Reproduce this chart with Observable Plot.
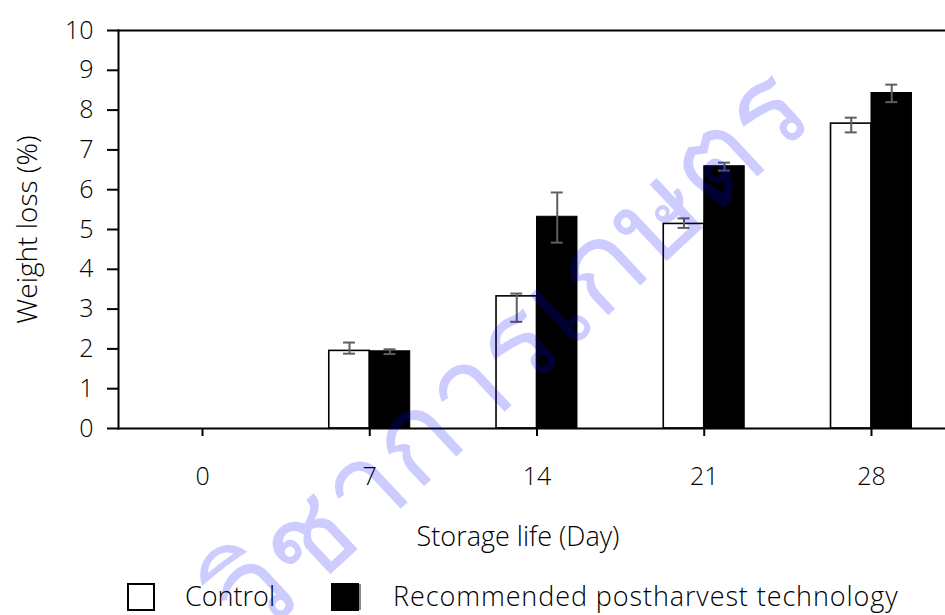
<!DOCTYPE html>
<html>
<head>
<meta charset="utf-8">
<script src="https://cdn.jsdelivr.net/npm/d3@7"></script>
<script src="https://cdn.jsdelivr.net/npm/@observablehq/plot@0.6"></script>
<style>
  html, body { margin: 0; padding: 0; background: white; }
  #wrap { width: 945px; position: relative; font-family: "Open Sans", "Noto Sans", sans-serif; }
  #chart svg text { font-weight: 300; }
  #legend { position: relative; width: 945px; height: 50px; font-size: 27px; font-weight: 300; color: #000; }
  #legend .sw { position: absolute; top: 18px; width: 28px; height: 28px; box-sizing: border-box; }
  #legend .lab { position: absolute; top: 14px; line-height: 34px; white-space: nowrap; }
</style>
</head>
<body>
<div id="wrap">
  <div id="chart"></div>
  <div id="legend"></div>
</div>
<script>
// ---- data ----
const days = ["0", "7", "14", "21", "28"];
const seriesNames = ["Control", "Recommended postharvest technology"];
const control = [0, 1.95, 3.32, 5.14, 7.66];
const recommended = [0, 1.94, 5.32, 6.59, 8.43];
const controlLow = [null, 1.88, 2.68, 5.04, 7.44];
const controlHigh = [null, 2.16, 3.39, 5.28, 7.81];
const recLow = [null, 1.87, 4.67, 6.48, 8.20];
const recHigh = [null, 1.99, 5.93, 6.68, 8.64];
const yTicks = [0, 1, 2, 3, 4, 5, 6, 7, 8, 9, 10];
const xTitle = "Storage life (Day)";
const yTitle = "Weight loss (%)";
const watermark = "วิชาการเกษตร";

const rows = days.map((d, i) => ({
  day: d,
  control: control[i], recommended: recommended[i],
  cLo: controlLow[i], cHi: controlHigh[i],
  rLo: recLow[i], rHi: recHigh[i]
}));
const bars = rows.filter(r => r.control > 0 || r.recommended > 0);

const W = 945, H = 565;
const mL = 118, mT = 30, mB = 137;
const bw = 81;          // group width in px
const cap = 12;         // error-bar cap width
const errColor = "#5f5f5f";
const font = "'Open Sans', 'Noto Sans', sans-serif";

const chart = Plot.plot({
  width: W,
  height: H,
  marginLeft: mL,
  marginRight: 0,
  marginTop: mT,
  marginBottom: mB,
  style: { fontFamily: font, fontSize: "25px", color: "#000", overflow: "visible" },
  x: { domain: days, range: [75.25, 997.75], padding: 0.516, round: false },
  y: { domain: [0, 10], range: [H - mB, mT] },
  marks: [
    Plot.barY(bars, { x: "day", y: "control", fill: "white", stroke: "black", strokeWidth: 1.6, insetRight: bw / 2 }),
    Plot.barY(bars, { x: "day", y: "recommended", fill: "black", stroke: "black", strokeWidth: 1, insetLeft: bw / 2 }),
    Plot.ruleX(bars, { x: "day", y1: "cLo", y2: "cHi", dx: -bw / 4, stroke: errColor, strokeWidth: 2 }),
    Plot.tickY(bars, { x: "day", y: "cLo", dx: -bw / 4, insetLeft: bw / 2 - cap / 2, insetRight: bw / 2 - cap / 2, stroke: errColor, strokeWidth: 2 }),
    Plot.tickY(bars, { x: "day", y: "cHi", dx: -bw / 4, insetLeft: bw / 2 - cap / 2, insetRight: bw / 2 - cap / 2, stroke: errColor, strokeWidth: 2 }),
    Plot.ruleX(bars, { x: "day", y1: "rLo", y2: "rHi", dx: bw / 4, stroke: errColor, strokeWidth: 2 }),
    Plot.tickY(bars, { x: "day", y: "rLo", dx: bw / 4, insetLeft: bw / 2 - cap / 2, insetRight: bw / 2 - cap / 2, stroke: errColor, strokeWidth: 2 }),
    Plot.tickY(bars, { x: "day", y: "rHi", dx: bw / 4, insetLeft: bw / 2 - cap / 2, insetRight: bw / 2 - cap / 2, stroke: errColor, strokeWidth: 2 }),
    Plot.frame({ anchor: "left", stroke: "black", strokeWidth: 2 }),
    Plot.frame({ anchor: "top", stroke: "black", strokeWidth: 2 }),
    Plot.frame({ anchor: "bottom", stroke: "black", strokeWidth: 2 }),
    Plot.axisY({ ticks: yTicks, tickSize: 11, tickPadding: 14, fontSize: 25, strokeWidth: 2, stroke: "black", fill: "black", label: null, tickFormat: d => String(d) }),
    Plot.axisX({ tickSize: 8, tickPadding: 31, fontSize: 25, strokeWidth: 2, stroke: "black", fill: "black", label: null }),
    Plot.text([yTitle], { frameAnchor: "left", textAnchor: "middle", lineAnchor: "middle", rotate: -90, dx: -90, fontSize: 28, letterSpacing: 0.6, fill: "black" }),
    Plot.text([xTitle], { frameAnchor: "bottom", textAnchor: "middle", lineAnchor: "middle", dx: -14, dy: 109, fontSize: 27, letterSpacing: 0.4, fill: "black" }),
    Plot.text([watermark], { frameAnchor: "middle", dx: -22, dy: 124, rotate: -43, fontSize: 122, letterSpacing: -9, fill: "blue", fillOpacity: 0.2 })
  ]
});
document.getElementById("chart").appendChild(chart);

// legend
const legend = document.getElementById("legend");
const items = [
  { sw: 127, text: 185, fill: "white", border: "2px solid black", extra: "", spacing: "0px" },
  { sw: 331, text: 393, fill: "black", border: "1px solid black", extra: "box-shadow: 3px 0 0 -1px #888;", spacing: "0.9px" }
];
items.forEach((it, i) => {
  const s = document.createElement("div");
  s.className = "sw";
  s.style.cssText = `left:${it.sw}px;background:${it.fill};border:${it.border};${it.extra}`;
  legend.appendChild(s);
  const t = document.createElement("div");
  t.className = "lab";
  t.style.left = it.text + "px";
  t.style.letterSpacing = it.spacing;
  t.textContent = seriesNames[i];
  legend.appendChild(t);
});
</script>
</body>
</html>
